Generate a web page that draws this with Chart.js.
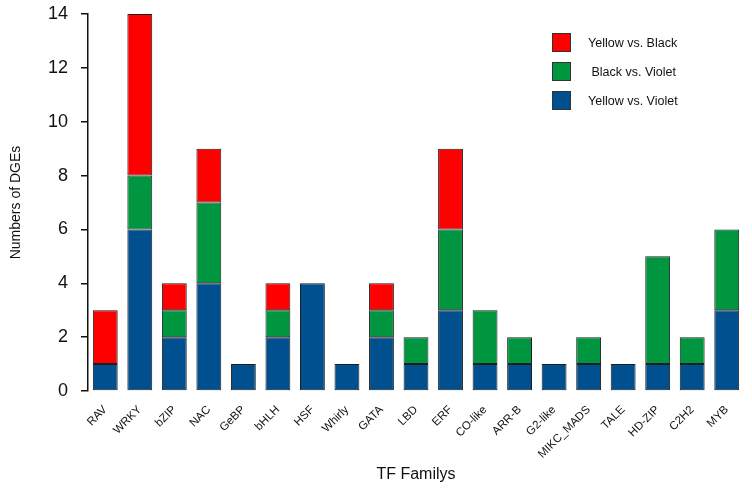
<!DOCTYPE html>
<html>
<head>
<meta charset="utf-8">
<script src="https://cdn.jsdelivr.net/npm/chart.js@4"></script>
<style>
  body { margin: 0; background: #fff; font-family: Arial, "Liberation Sans", sans-serif; }
  #wrap { position: relative; width: 752px; height: 488px; }
  .legend { position: absolute; left: 552px; top: 28px; font-size: 12.5px; color: #111; }
  .legend div { height: 29px; display: flex; align-items: center; }
  .legend span.sw { display: inline-block; width: 19px; height: 19px; border: 1px solid #333; margin-right: 17px; box-sizing: border-box; }
</style>
</head>
<body>
<div id="wrap">
  <canvas id="chart" width="752" height="488"></canvas>
  <div class="legend">
    <div><span class="sw" style="background:#ff0000"></span>Yellow vs. Black</div>
    <div><span class="sw" style="background:#00963f"></span>&nbsp;Black vs. Violet</div>
    <div><span class="sw" style="background:#00508f"></span>Yellow vs. Violet</div>
  </div>
</div>
<script>
const families = ['RAV', 'WRKY', 'bZIP', 'NAC', 'GeBP', 'bHLH', 'HSF', 'Whirly', 'GATA', 'LBD',
  'ERF', 'CO-like', 'ARR-B', 'G2-like', 'MIKC_MADS', 'TALE', 'HD-ZIP', 'C2H2', 'MYB'];
const yellowVsViolet = [1, 6, 2, 4, 1, 2, 4, 1, 2, 1, 3, 1, 1, 1, 1, 1, 1, 1, 3];
const blackVsViolet  = [0, 2, 1, 3, 0, 1, 0, 0, 1, 1, 3, 2, 1, 0, 1, 0, 4, 1, 3];
const yellowVsBlack  = [2, 6, 1, 2, 0, 1, 0, 0, 1, 0, 3, 0, 0, 0, 0, 0, 0, 0, 0];
const yTicks = [0, 2, 4, 6, 8, 10, 12, 14];

function bars(label, data, color) {
  return {
    label: label,
    // zero counts are left out so no empty outlined bar is drawn
    data: data.map(v => (v === 0 ? null : v)),
    backgroundColor: color,
    borderColor: '#1e1e1e',
    borderWidth: 1,
    borderSkipped: false,
    categoryPercentage: 0.72,
    barPercentage: 1.0
  };
}

new Chart(document.getElementById('chart'), {
  type: 'bar',
  data: {
    labels: families,
    datasets: [
      bars('Yellow vs. Violet', yellowVsViolet, '#00508f'),
      bars('Black vs. Violet', blackVsViolet, '#00963f'),
      bars('Yellow vs. Black', yellowVsBlack, '#ff0000')
    ]
  },
  options: {
    responsive: false,
    animation: false,
    layout: { padding: { left: 0, right: 8, top: 0, bottom: 0 } },
    plugins: { legend: { display: false }, tooltip: { enabled: false } },
    scales: {
      x: {
        stacked: true,
        grid: { display: false },
        border: { display: false },
        ticks: {
          color: '#111',
          font: { size: 11.5, family: 'Arial, Liberation Sans, sans-serif' },
          minRotation: 45,
          maxRotation: 45,
          autoSkip: false,
          padding: 4
        },
        title: {
          display: true,
          text: 'TF Familys',
          color: '#111',
          font: { size: 16, family: 'Arial, Liberation Sans, sans-serif' },
          padding: { top: 20 }
        },
        afterFit: s => { s.height = 97; }
      },
      y: {
        stacked: true,
        min: 0,
        max: 14,
        afterBuildTicks: s => { s.ticks = yTicks.map(v => ({ value: v })); },
        grid: { drawOnChartArea: false, drawTicks: true, tickLength: 7, color: '#111', lineWidth: 1.5 },
        border: { display: true, color: '#111', width: 1.5 },
        ticks: {
          color: '#111',
          font: { size: 18, family: 'Arial, Liberation Sans, sans-serif' },
          padding: 13
        },
        title: {
          display: true,
          text: 'Numbers of DGEs',
          color: '#111',
          font: { size: 14, family: 'Arial, Liberation Sans, sans-serif' },
          padding: { top: 8, bottom: 0 }
        },
        afterFit: s => { s.width = 88; s.paddingTop = 14; s.paddingBottom = 10; }
      }
    }
  }
});
</script>
</body>
</html>
